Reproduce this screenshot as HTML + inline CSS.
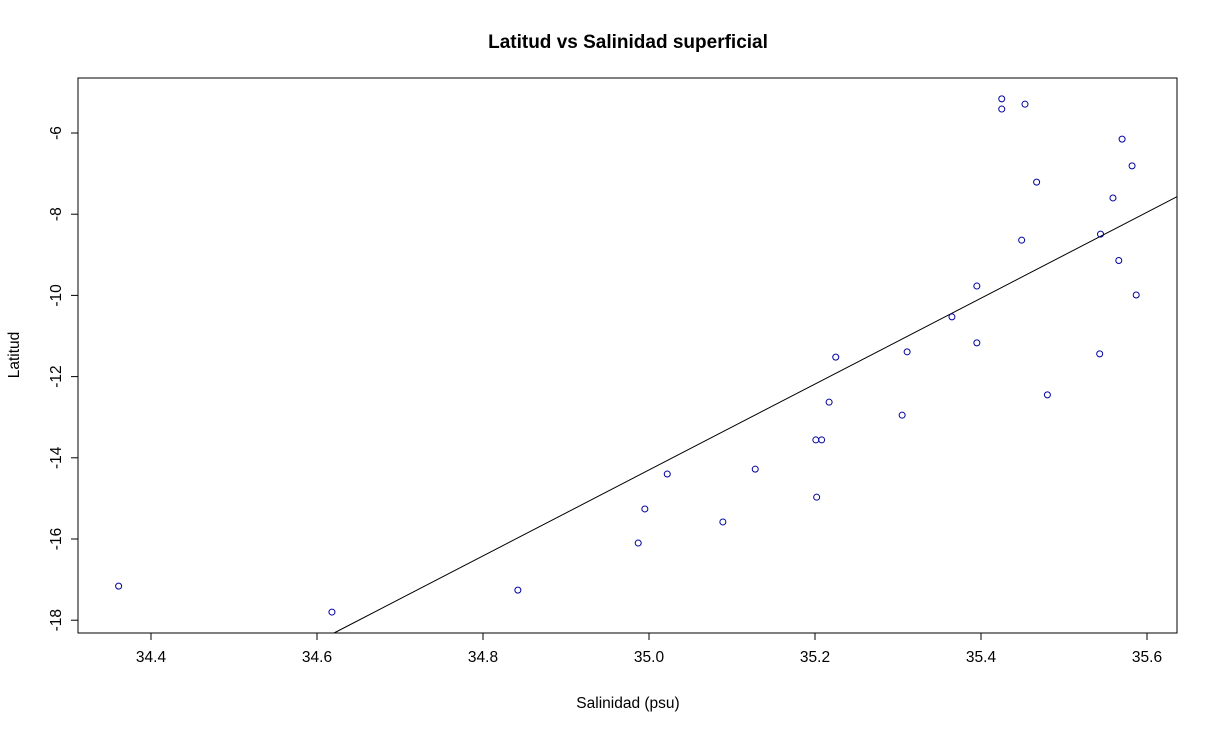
<!DOCTYPE html>
<html><head><meta charset="utf-8"><style>
html,body{margin:0;padding:0;background:#fff}
svg{display:block;font-family:"Liberation Sans",Arial,sans-serif}
</style></head><body>
<svg id="chart" width="1218" height="731">
<text x="628" y="48" text-anchor="middle" font-size="19" font-weight="bold">Latitud vs Salinidad superficial</text>
<rect x="78" y="78" width="1099" height="555" fill="none" stroke="#000" stroke-width="1"/>
<text x="628" y="708" text-anchor="middle" font-size="15.5">Salinidad (psu)</text>
<text transform="translate(19,355) rotate(-90)" text-anchor="middle" font-size="15.5">Latitud</text>
<g id="axes"></g><g id="fit"></g><g id="pts"></g>
</svg>
<script>
const xTicks=[34.4,34.6,34.8,35.0,35.2,35.4,35.6];
const xTickLabels=["34.4","34.6","34.8","35.0","35.2","35.4","35.6"];
const yTicks=[-6,-8,-10,-12,-14,-16,-18];
const yTickLabels=["-6","-8","-10","-12","-14","-16","-18"];
const salinity=[34.361,34.618,34.842,34.987,34.995,35.022,35.089,35.128,35.201,35.208,35.202,35.217,35.225,35.305,35.311,35.365,35.395,35.395,35.425,35.425,35.453,35.467,35.449,35.480,35.543,35.544,35.559,35.566,35.570,35.582,35.587];
const latitude=[-17.16,-17.80,-17.26,-16.10,-15.26,-14.40,-15.58,-14.28,-13.56,-13.56,-14.97,-12.63,-11.52,-12.95,-11.39,-10.53,-9.77,-11.17,-5.16,-5.41,-5.29,-7.21,-8.64,-12.45,-11.44,-8.49,-7.60,-9.14,-6.15,-6.81,-9.99];
const fitCoef=[-384.6,10.58];
const NS="http://www.w3.org/2000/svg";
const X0=78,X1=1177,Y0=78,Y1=633;
const sx=v=>151+(v-34.4)*830;
const sy=v=>133+(-6-v)*40.6;
const sxInv=p=>34.4+(p-151)/830;
const syInv=p=>-6-(p-133)/40.6;
function mk(t,a,parent){const e=document.createElementNS(NS,t);for(const k in a)e.setAttribute(k,a[k]);parent.appendChild(e);return e;}
const axes=document.getElementById('axes');
xTicks.forEach((v,i)=>{
  const l=mk('line',{x1:sx(v),x2:sx(v),y1:Y1,y2:Y1+7,stroke:'#000'},axes);
  
  
  const t=mk('text',{x:sx(v),y:Y1+29,'text-anchor':'middle','font-size':15.5},axes);
  t.textContent=xTickLabels[i];
  
  
});
yTicks.forEach((v,i)=>{
  const l=mk('line',{x1:X0-7,x2:X0,y1:sy(v),y2:sy(v),stroke:'#000'},axes);
  
  
  const t=mk('text',{x:0,y:0,'text-anchor':'middle','font-size':15.5,transform:`translate(${X0-17},${sy(v)}) rotate(-90)`},axes);
  t.textContent=yTickLabels[i];
  
  
});
const f=x=>fitCoef[0]+fitCoef[1]*x;
let xa=sxInv(X0),xb=sxInv(X1);
const yLo=syInv(Y1),yHi=syInv(Y0);
const xAtLo=(yLo-fitCoef[0])/fitCoef[1],xAtHi=(yHi-fitCoef[0])/fitCoef[1];
xa=Math.max(xa,Math.min(xAtLo,xAtHi));xb=Math.min(xb,Math.max(xAtLo,xAtHi));
const fl=mk('line',{x1:sx(xa),y1:sy(f(xa)),x2:sx(xb),y2:sy(f(xb)),stroke:'#000','stroke-width':1},document.getElementById('fit'));


const pts=document.getElementById('pts');
salinity.forEach((s,i)=>{
  const c=mk('circle',{cx:sx(s),cy:sy(latitude[i]),r:3,fill:'none',stroke:'#0000a0','stroke-width':1},pts);
  
  
});
</script>
</body></html>
